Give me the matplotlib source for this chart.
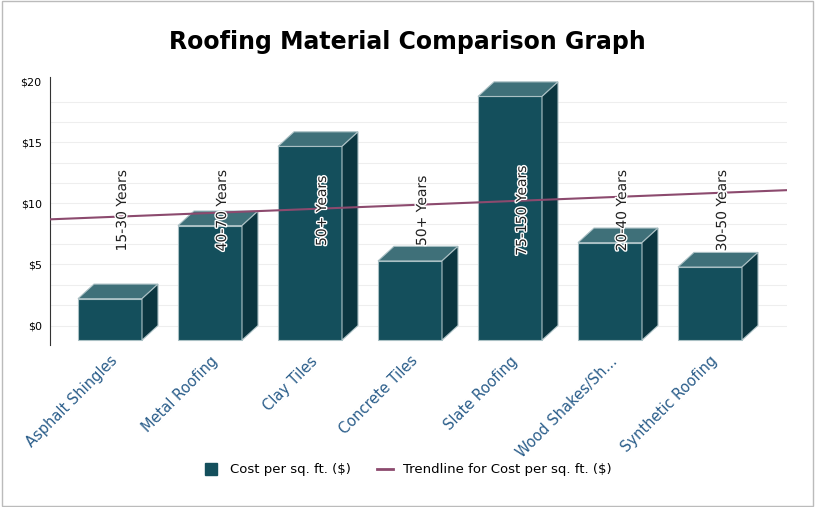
import matplotlib
matplotlib.use("Agg")
import matplotlib.pyplot as plt
from matplotlib.patches import Polygon, Rectangle
from matplotlib.lines import Line2D
import matplotlib.patheffects as pe
import numpy as np

categories = ["Asphalt Shingles", "Metal Roofing", "Clay Tiles", "Concrete Tiles",
              "Slate Roofing", "Wood Shakes/Sh...", "Synthetic Roofing"]
costs = [3.4, 9.4, 15.9, 6.5, 20.0, 8.0, 6.0]
lifespans = ["15-30 Years", "40-70 Years", "50+ Years", "50+ Years",
             "75-150 Years", "20-40 Years", "30-50 Years"]
yticks = [0, 5, 10, 15, 20]
yticklabels = ["$0", "$5", "$10", "$15", "$20"]

W, H = 815, 507
fig = plt.figure(figsize=(W/100, H/100), dpi=100)
fig.patches.append(Rectangle((0.002, 0.002), 0.996, 0.996, transform=fig.transFigure,
                             fill=False, ec="#bbbbbb", lw=1))
ax = fig.add_axes([50/W, (H-345)/H, (787-50)/W, 268/H])
ax.set_xlim(-0.6, 6.77)
ax.set_ylim(-1.6, 20.4)

front_c, top_c, side_c = "#144f5c", "#3f7079", "#0b3640"
bw, dx, dy = 0.64, 0.16, 1.2
for g in np.arange(0, 20.01, 1.67):
    ax.plot([-0.6, 6.77], [g, g], color="#eeeeee", lw=0.8, zorder=0)
for i, v in enumerate(costs):
    x0 = i - bw/2
    ax.add_patch(Polygon([(x0, -dy), (x0+bw, -dy), (x0+bw, v-dy), (x0, v-dy)],
                         fc=front_c, ec="#aac0c4", lw=0.8, zorder=2))
    ax.add_patch(Polygon([(x0, v-dy), (x0+bw, v-dy), (x0+bw+dx, v), (x0+dx, v)],
                         fc=top_c, ec="#aac0c4", lw=0.8, zorder=2))
    ax.add_patch(Polygon([(x0+bw, -dy), (x0+bw+dx, 0), (x0+bw+dx, v), (x0+bw, v-dy)],
                         fc=side_c, ec="#aac0c4", lw=0.8, zorder=2))
    ax.text(i + 0.12, 9.4, lifespans[i], rotation=90, ha="center", va="center",
            fontsize=10, color="#222222", zorder=4,
            path_effects=[pe.withStroke(linewidth=2, foreground="white")])

xs = np.arange(len(costs))
m, b = np.polyfit(xs, costs, 1)
tx = np.array([-0.6, 6.77])
ax.plot(tx, m*tx + b, color="#8c4a6e", lw=1.5, zorder=3)

for s in ["top", "right", "bottom"]:
    ax.spines[s].set_visible(False)
ax.spines["left"].set_color("#333333")
ax.set_yticks(yticks)
ax.set_yticklabels(yticklabels, fontsize=8)
ax.tick_params(axis="y", length=0, pad=6)
ax.set_xticks(xs)
ax.set_xticklabels(categories, rotation=45, ha="right", rotation_mode="anchor",
                   fontsize=10.5, color="#2a5d8a")
ax.tick_params(axis="x", length=0, pad=6)

fig.text(0.5, 1-42/H, "Roofing Material Comparison Graph", ha="center", va="center",
         fontsize=17, fontweight="bold")
handles = [Line2D([], [], marker="s", ls="", color=front_c, markersize=8),
           Line2D([], [], color="#8c4a6e", lw=2)]
fig.legend(handles, ["Cost per sq. ft. ($)", "Trendline for Cost per sq. ft. ($)"],
           loc="center", bbox_to_anchor=(0.5, 1-470/H), ncol=2, frameon=False,
           fontsize=9.5, handlelength=1.2)
fig.savefig("out.png", dpi=100)
